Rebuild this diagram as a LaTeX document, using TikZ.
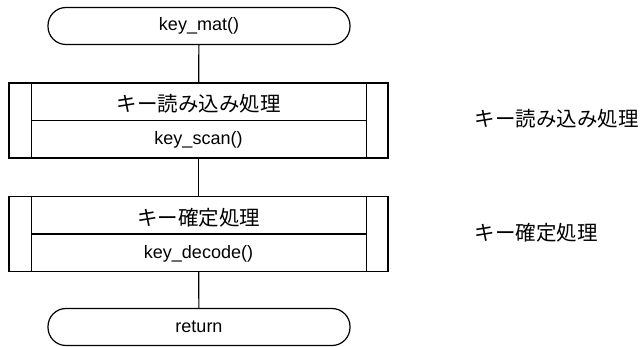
\documentclass[tikz,border=0pt]{standalone}
\usepackage{fontspec}
\setmainfont{Liberation Sans}
\newfontfamily\jpfont{Noto Sans CJK JP}
\usepackage{xcolor}
\usepackage{tikz}
\usetikzlibrary{positioning}

\begin{document}
\begin{tikzpicture}[x=1pt, y=-1pt, line width=1.2pt,
        terminal/.style={draw, rounded corners=18pt, minimum width=302pt, minimum height=37pt, inner sep=0pt, font=\fontsize{18}{20}\selectfont},
        subproc/.style={draw, minimum width=379pt, minimum height=75pt, inner sep=0pt},
        jptext/.style={inner sep=0pt, font=\jpfont\fontsize{20.5}{22}\selectfont},
        calltext/.style={inner sep=0pt, font=\fontsize{18}{20}\selectfont}]
        \useasboundingbox (0,0) rectangle (643,347);
        % start / end
        \node[terminal] (start) at (199,26) {key\_mat()};
        \node[terminal] (ret) at (199,327) {return};
        % predefined processes
        \node[subproc] (scan) at (198.5,120.5) {};
        \node[subproc] (decode) at (198.5,234) {};
        \foreach \p in {scan, decode} {
            \draw ([xshift=23pt]\p.north west) -- ([xshift=23pt]\p.south west);
            \draw ([xshift=-22pt]\p.north east) -- ([xshift=-22pt]\p.south east);
            \draw ([xshift=23pt]\p.west) -- ([xshift=-22pt]\p.east);
        }
        \node[jptext] (scantitle) at (198.5,104) {キー読み込み処理};
        \node[calltext] (scancall) at (198.5,140) {key\_scan()};
        \node[jptext] (decodetitle) at (198.5,218) {キー確定処理};
        \node[calltext] (decodecall) at (198.5,254) {key\_decode()};
        % notes
        \node[jptext, anchor=west] (scannote) at (474,119) {キー読み込み処理};
        \node[jptext, anchor=west] (decodenote) at (474,233) {キー確定処理};
        % flow
        \draw (start) -- (scan);
        \draw (scan) -- (decode);
        \draw (decode) -- (ret);
    \end{tikzpicture}
\end{document}
